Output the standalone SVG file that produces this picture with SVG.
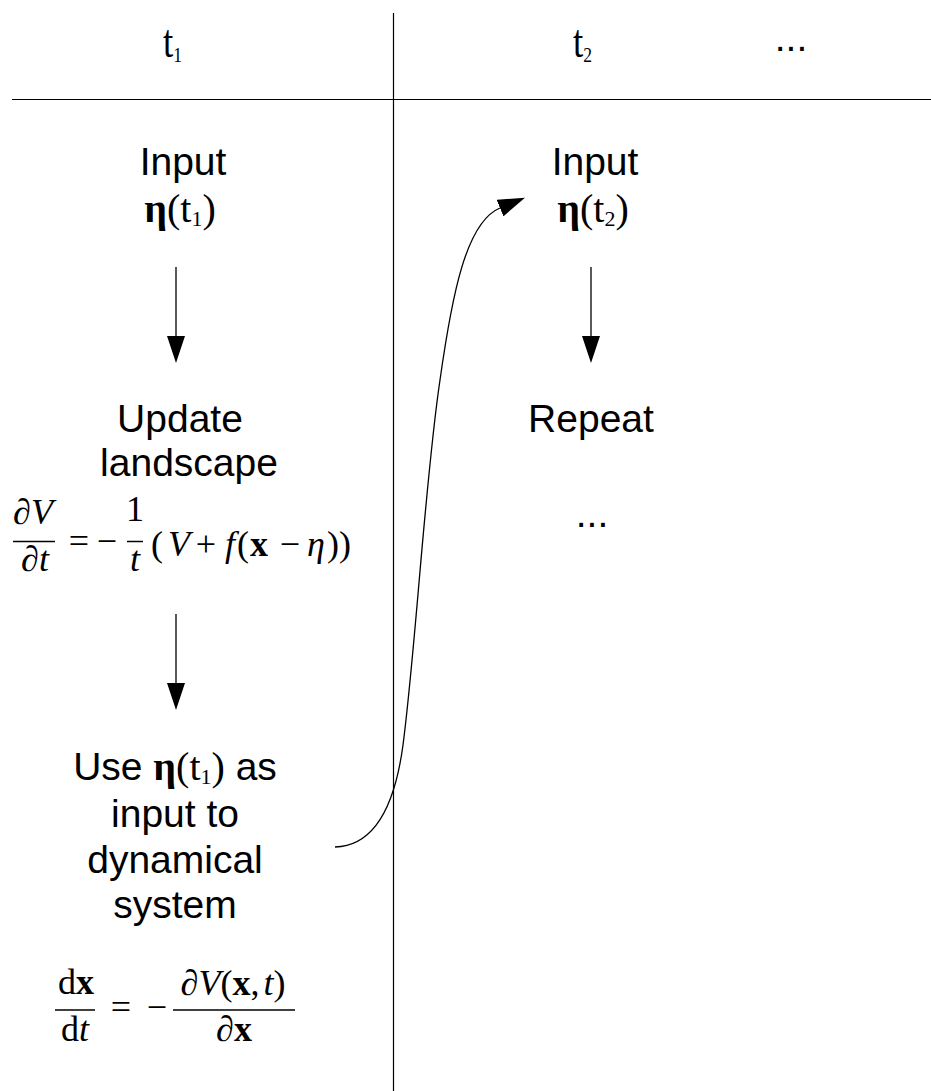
<svg xmlns="http://www.w3.org/2000/svg" width="931" height="1091" viewBox="0 0 931 1091">
  <style>
    .sans { font-family: "Liberation Sans", Arial, sans-serif; font-size: 39px; fill: #000; }
    .serif { font-family: "Liberation Serif", "Times New Roman", serif; fill: #000; }
    .math { font-family: "Liberation Serif", "Times New Roman", serif; font-size: 36px; fill: #000; }
    .it { font-style: italic; }
    .bf { font-weight: bold; }
    .rule { stroke: #000; stroke-width: 1.2; fill: none; }
    .bar { stroke: #000; stroke-width: 1.5; }
    .conn { stroke: #000; stroke-width: 1.3; fill: none; }
  </style>
  <defs>
    <marker id="head" markerUnits="userSpaceOnUse" markerWidth="28" markerHeight="18" refX="0" refY="9" orient="auto">
      <path d="M0,0 L27,9 L0,18 z" fill="#000"/>
    </marker>
  </defs>

  <rect width="931" height="1091" fill="#fff"/>

  <!-- table rules -->
  <g id="grid">
    <line class="rule" x1="12" y1="99.5" x2="931" y2="99.5"/>
    <line class="rule" x1="393.5" y1="13" x2="393.5" y2="1091"/>
  </g>

  <!-- column headers (narrow serif) -->
  <g id="header-t1">
    <text class="serif" font-size="46" transform="translate(163,57) scale(0.8,1)">t<tspan font-size="22" dy="5">1</tspan></text>
  </g>
  <g id="header-t2">
    <text class="serif" font-size="46" transform="translate(573,57) scale(0.8,1)">t<tspan font-size="22" dy="5">2</tspan></text>
  </g>
  <g id="header-more">
    <text class="sans" x="791" y="51" font-size="30" text-anchor="middle">...</text>
  </g>

  <!-- step 1: input -->
  <g id="input-t1">
    <text class="sans" x="183" y="175" text-anchor="middle">Input</text>
    <text class="serif" x="180" y="222" font-size="40" text-anchor="middle"><tspan class="bf">η</tspan>(t<tspan font-size="22" dy="4">1</tspan><tspan dy="-4">)</tspan></text>
  </g>

  <!-- step 2: update landscape -->
  <g id="update-landscape">
    <text class="sans" x="180" y="432" text-anchor="middle">Update</text>
    <text class="sans" x="189" y="476" text-anchor="middle">landscape</text>
  </g>

  <!-- dV/dt = -1/t (V + f(x - eta)) -->
  <g id="eq-landscape" class="math">
    <text class="it" x="33" y="524" text-anchor="middle">∂V</text>
    <line class="bar" x1="13" y1="541.5" x2="55" y2="541.5"/>
    <text class="it" x="35" y="571" text-anchor="middle">∂t</text>
    <text x="79" y="553" text-anchor="middle">=</text>
    <text x="107" y="553" text-anchor="middle">−</text>
    <text x="135" y="521" text-anchor="middle">1</text>
    <line class="bar" x1="127" y1="541.5" x2="143" y2="541.5"/>
    <text class="it" x="135" y="571" text-anchor="middle">t</text>
    <text x="157" y="556" text-anchor="middle">(</text>
    <text class="it" x="179" y="556" text-anchor="middle">V</text>
    <text x="206" y="556" text-anchor="middle">+</text>
    <text class="it" x="230" y="556" text-anchor="middle">f</text>
    <text x="243" y="556" text-anchor="middle">(</text>
    <text class="bf" x="259" y="556" text-anchor="middle">x</text>
    <text x="290" y="556" text-anchor="middle">−</text>
    <text class="it" x="316" y="556" text-anchor="middle">η</text>
    <text x="339" y="556" text-anchor="middle">))</text>
  </g>

  <!-- step 3: drive the dynamical system -->
  <g id="use-input">
    <text class="sans" x="175" y="780" text-anchor="middle">Use <tspan class="serif bf" font-size="40">η</tspan><tspan class="serif" font-size="40">(t</tspan><tspan class="serif" font-size="22" dy="4">1</tspan><tspan class="serif" font-size="40" dy="-4">)</tspan> as</text>
    <text class="sans" x="175" y="827" text-anchor="middle">input to</text>
    <text class="sans" x="175" y="873" text-anchor="middle">dynamical</text>
    <text class="sans" x="175" y="918" text-anchor="middle">system</text>
  </g>

  <!-- dx/dt = -dV(x,t)/dx -->
  <g id="eq-dynamics" class="math">
    <text x="76" y="994" text-anchor="middle">d<tspan class="bf">x</tspan></text>
    <line class="bar" x1="55" y1="1010" x2="95" y2="1010"/>
    <text x="75" y="1041" text-anchor="middle">d<tspan class="it">t</tspan></text>
    <text x="121" y="1019" text-anchor="middle">=</text>
    <text x="157" y="1019" text-anchor="middle">−</text>
    <text x="233" y="995" text-anchor="middle"><tspan class="it">∂V</tspan>(<tspan class="bf">x</tspan>,<tspan dx="4" class="it">t</tspan>)</text>
    <line class="bar" x1="173" y1="1010" x2="295" y2="1010"/>
    <text x="234" y="1041" text-anchor="middle"><tspan class="it">∂</tspan><tspan class="bf">x</tspan></text>
  </g>

  <!-- second column -->
  <g id="input-t2">
    <text class="sans" x="595" y="175" text-anchor="middle">Input</text>
    <text class="serif" x="593" y="222" font-size="40" text-anchor="middle"><tspan class="bf">η</tspan>(t<tspan font-size="22" dy="4">2</tspan><tspan dy="-4">)</tspan></text>
  </g>
  <g id="repeat">
    <text class="sans" x="591" y="432" text-anchor="middle">Repeat</text>
    <text class="sans" x="592" y="527" font-size="30" text-anchor="middle">...</text>
  </g>

  <!-- connectors -->
  <g id="connectors">
    <line class="conn" x1="176" y1="267" x2="176" y2="336" marker-end="url(#head)"/>
    <line class="conn" x1="176" y1="614" x2="176" y2="683" marker-end="url(#head)"/>
    <line class="conn" x1="591" y1="267" x2="591" y2="336" marker-end="url(#head)"/>
    <path class="conn" d="M335,847 C372,846 394,812 403,745 C416,645 425,480 440,380 C452,295 466,222 500,208" marker-end="url(#head)"/>
  </g>
</svg>
